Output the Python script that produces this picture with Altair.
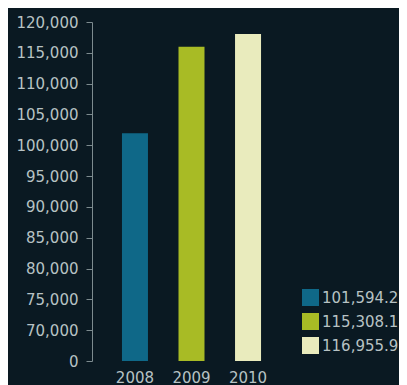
import altair as alt
import pandas as pd

years = ["2008", "2009", "2010"]
bar_heights = [101950, 116000, 118050]          # heights as drawn in the picture
legend_labels = ["101,594.2", "115,308.1", "116,955.9"]
colors = ["#0f6888", "#a8bb25", "#e9ebbd"]
y_ticks = [65000, 70000, 75000, 80000, 85000, 90000, 95000, 100000,
           105000, 110000, 115000, 120000]

df = pd.DataFrame({"year": years, "value": bar_heights, "label": legend_labels})

BG = "#0a1922"
TXT = "#b7c2c4"
FONT = "DejaVu Sans"
FS = 15

bars = alt.Chart(df).mark_bar().encode(
    x=alt.X("year:N", sort=years,
            scale=alt.Scale(paddingInner=0.54, paddingOuter=0.53),
            axis=alt.Axis(title=None, labelAngle=0, domain=False, ticks=False,
                          labelPadding=9, labelFontSize=FS, labelColor=TXT,
                          labelFont=FONT)),
    y=alt.Y("value:Q",
            scale=alt.Scale(domain=[65000, 120000], nice=False, zero=False),
            axis=alt.Axis(title=None, values=y_ticks, grid=False,
                          labelExpr="datum.value == 65000 ? '0' : format(datum.value, ',')",
                          labelFontSize=FS, labelColor=TXT, labelFont=FONT,
                          labelPadding=8, tickSize=6, tickColor="#7d8b8f",
                          domainColor="#7d8b8f", tickWidth=1, domainWidth=1)),
    y2=alt.datum(65000),
    color=alt.Color("label:N", sort=legend_labels,
                    scale=alt.Scale(domain=legend_labels, range=colors),
                    legend=alt.Legend(title=None, orient="none", legendX=210,
                                      legendY=267, symbolType="square",
                                      symbolSize=289, symbolStrokeWidth=0,
                                      labelFontSize=FS, labelColor=TXT,
                                      labelFont=FONT, labelOffset=3,
                                      rowPadding=7, padding=0)),
)

chart = bars.properties(
    width=199, height=339,
    background=BG,
    autosize=alt.AutoSizeParams(type="none"),
    padding={"left": 84, "top": 14, "right": 108, "bottom": 30},
).configure_view(stroke=None)

chart.save("out.html", embed_options={"renderer": "svg", "actions": False})
